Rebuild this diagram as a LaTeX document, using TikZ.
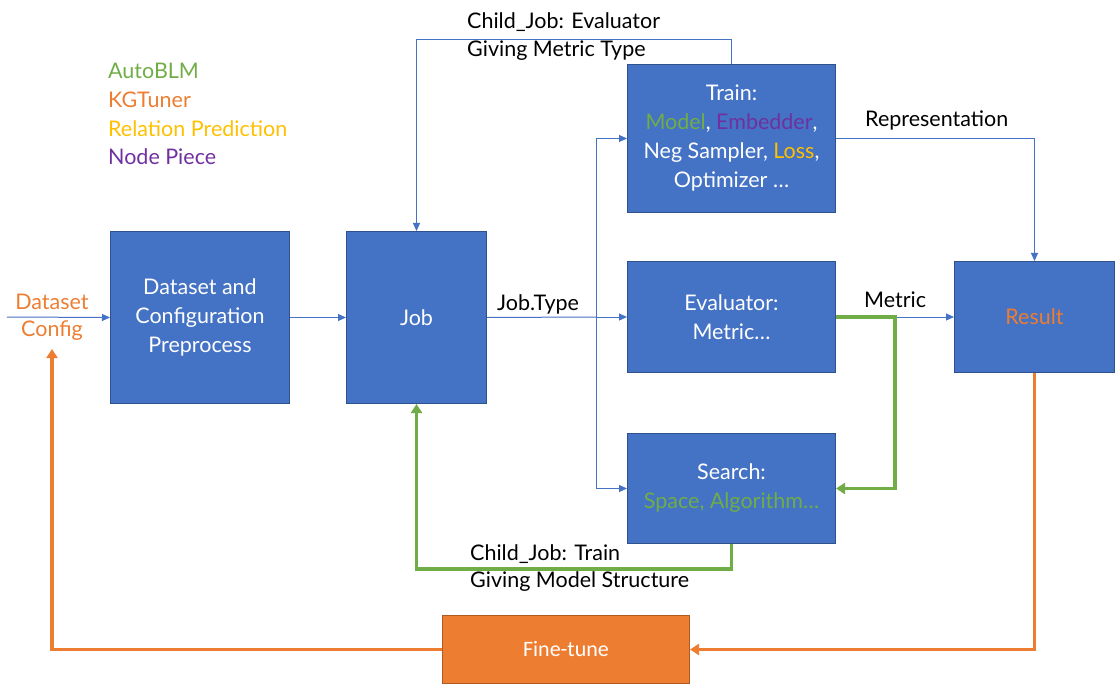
\documentclass[tikz,border=0pt]{standalone}
\usepackage{fontspec}
\setmainfont{Lato}
\newfontfamily\ftfont{Carlito}
\usetikzlibrary{arrows.meta}
\definecolor{boxblue}{HTML}{4472C4}
\definecolor{boxedge}{HTML}{2F528F}
\definecolor{cgreen}{HTML}{70AD47}
\definecolor{corange}{HTML}{ED7D31}
\definecolor{cyellow}{HTML}{FFC000}
\definecolor{cpurple}{HTML}{7030A0}
\definecolor{ftedge}{HTML}{AE5A21}
\newcommand{\fs}{\fontsize{21.5}{29}\selectfont}
\begin{document}
\begin{tikzpicture}[x=1pt,y=-1pt,
  box/.style={draw=boxedge, line width=1pt, fill=boxblue, text=white, align=center, inner sep=0pt, anchor=north west, font=\fs},
  lbl/.style={font=\fs, inner sep=0pt, anchor=west},
  bline/.style={draw=boxblue, line width=1pt},
  barrow/.style={bline, -{Triangle[length=8pt,width=7pt]}},
  garrow/.style={draw=cgreen, line width=3.5pt, -{Triangle[length=9pt,width=11pt]}},
  oarrow/.style={draw=corange, line width=3.5pt, -{Triangle[length=9pt,width=11pt]}}
]
\useasboundingbox (0,0) rectangle (1115,684);

% legend
\node[lbl, text=cgreen] (l1) at (108,71) {AutoBLM};
\node[lbl, text=corange] (l2) at (108,100) {KGTuner};
\node[lbl, text=cyellow] (l3) at (108,129) {Relation Prediction};
\node[lbl, text=cpurple] (l4) at (108,157) {Node Piece};

% boxes
\node[box, minimum width=179, minimum height=172] (ds) at (110,231) {Dataset and\\Configuration\\Preprocess};
\node[box, minimum width=140, minimum height=172] (job) at (346,231) {Job};
\node[box, minimum width=208, minimum height=148] (train) at (627,64) {Train:\\\textcolor{cgreen}{Model}, \textcolor{cpurple}{Embedder},\\Neg Sampler, \textcolor{cyellow}{Loss},\\Optimizer …};
\node[box, minimum width=208, minimum height=111] (eval) at (627,261) {Evaluator:\\Metric…};
\node[box, minimum width=208, minimum height=110] (search) at (627,433) {Search:\\\textcolor{cgreen}{Space, Algorithm…}};
\node[box, minimum width=160, minimum height=111, text=corange] (result) at (954,261) {Result};
\node[box, draw=ftedge, fill=corange, minimum width=247, minimum height=68, font=\ftfont\fontsize{22}{26}\selectfont] (ft) at (442,615) {Fine-tune};

% input labels
\node[lbl, anchor=center, text=corange] (dsl) at (52,302) {Dataset};
\node[lbl, anchor=center, text=corange] (cfg) at (52,331) {Config};
\coordinate (in) at (7,317);
\coordinate (cfgb) at (52,349);

% edge labels
\node[lbl] (lt1) at (467,22) {Child\_Job: Evaluator};
\node[lbl] (lt2) at (467,51) {Giving Metric Type};
\node[lbl] (lrep) at (865,120) {Representation};
\node[lbl] (lmet) at (864,300) {Metric};
\node[lbl] (ljt) at (497,304) {Job.Type};
\node[lbl] (lb1) at (470,554) {Child\_Job: Train};
\node[lbl] (lb2) at (470,582) {Giving Model Structure};

% connectors
\draw[barrow] (in) -- (ds.west);
\draw[barrow] (ds.east) -- (job.west);
\coordinate (br) at (596,317);
\draw[bline] (job.east) -- (br);
\draw[barrow] (br) -- (eval.west);
\draw[barrow] (br) |- (train.west);
\draw[barrow] (br) |- (search.west);
\draw[barrow] (train.north) -- ++(0,-24) -| (job.north);
\draw[barrow] (train.east) -| (result.north);
\coordinate (mj) at (895,317);
\draw[barrow] (mj) -- (result.west);
\draw[garrow] (eval.east) -- (mj) |- (search.east);
\draw[garrow] (search.south) -- ++(0,25) -| (job.south);
\draw[oarrow] (result.south) |- (ft.east);
\draw[oarrow] (ft.west) -| (cfgb);
\end{tikzpicture}
\end{document}
